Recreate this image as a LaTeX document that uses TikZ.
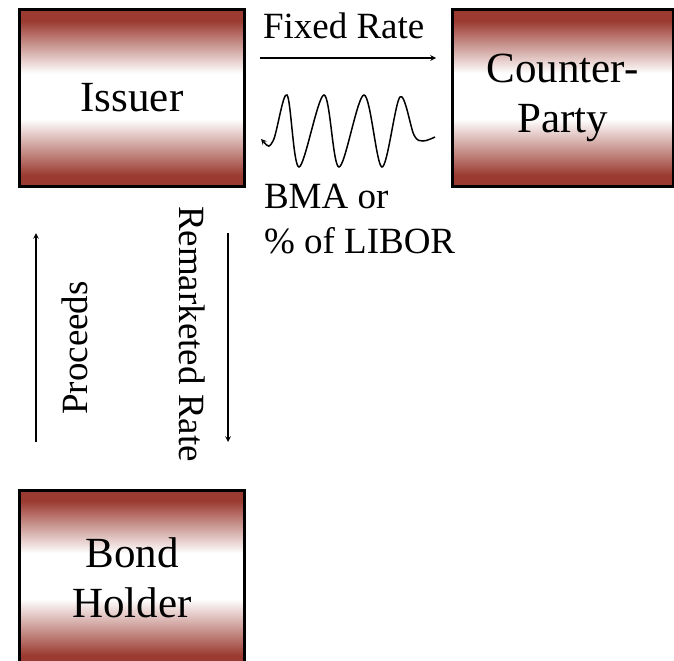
\documentclass[tikz,border=0pt]{standalone}
\usepackage{fontspec}
\setmainfont{Liberation Serif}
\usepackage{xcolor}
\usetikzlibrary{positioning, arrows}
\definecolor{boxred}{RGB}{155,58,48}
\pgfdeclareverticalshading{partyshade}{100bp}{color(0bp)=(boxred); color(28bp)=(boxred); color(44bp)=(white); color(57bp)=(white); color(72bp)=(boxred); color(100bp)=(boxred)}
\newcommand{\boxfont}{\fontsize{43bp}{50bp}\selectfont}
\newcommand{\lblfont}{\fontsize{37bp}{45bp}\selectfont}
\tikzstyle{party} = [rectangle, draw=black, line width=3bp, outer sep=0, minimum width=224bp, minimum height=176bp, shading=partyshade, align=center, font=\boxfont]
\tikzstyle{lbl} = [inner sep=0, outer sep=0, font=\lblfont]
\tikzstyle{line} = [draw,->,>=stealth, line width=1.5bp]

\begin{document}
\begin{tikzpicture}[x=1bp, y=-1bp, node distance=208bp]
\clip (0,0) rectangle (674,661);

\node [party] (issuer) at (132,98) {Issuer};
\node [party, minimum width=221bp, right=of issuer] (counter) {Counter-\\Party};
\node [party, below=304bp of issuer] (holder) {Bond\\Holder};

\coordinate (fixA) at (260,58);
\coordinate (fixB) at (436,58);
\coordinate (procA) at (36,442);
\coordinate (procB) at (36,233);
\coordinate (remA) at (228,233);
\coordinate (remB) at (228,442);

\node [lbl, anchor=base west] (fixed) at (263,39) {Fixed Rate};
\node [lbl, anchor=north west, align=left] (float) at (264,184) {BMA or\\\% of LIBOR};
\node [lbl, rotate=90] (proceeds) at (75,348) {Proceeds};
\node [lbl, rotate=-90] (remarket) at (192,334) {Remarketed Rate};

\path [line] (fixA) -- (fixB);
\path [line] (procA) -- (procB);
\path [line] (remA) -- (remB);
\draw [<-, >=stealth, line width=1.5bp] plot[smooth, tension=0.55] coordinates {(261,139) (273,141) (287,95) (299,167) (324,95) (339,167) (364,95) (382,167) (400,97) (414,135) (423,141) (435,137)};

\end{tikzpicture}
\end{document}
